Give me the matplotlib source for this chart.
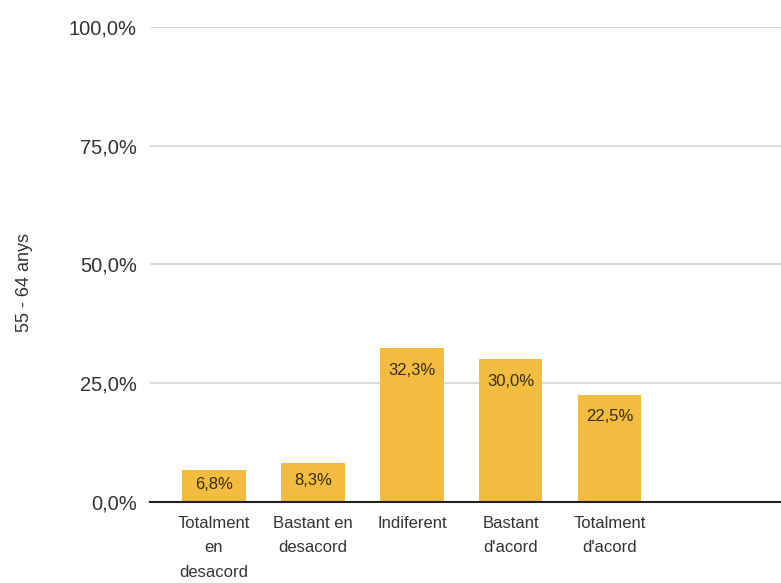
import matplotlib
matplotlib.use("Agg")
import matplotlib.pyplot as plt
from matplotlib.ticker import FuncFormatter

categories = ["Totalment\nen\ndesacord", "Bastant en\ndesacord", "Indiferent", "Bastant\nd'acord", "Totalment\nd'acord"]
values = [6.8, 8.3, 32.3, 30.0, 22.5]
y_ticks = [0, 25, 50, 75, 100]
y_label = "55 - 64 anys"

plt.rcParams["font.family"] = ["Liberation Sans", "DejaVu Sans"]

fig = plt.figure(figsize=(7.81, 5.83), dpi=100)
ax = fig.add_axes([0.192, 0.139, 0.808, 0.815])

bar_color = "#F1BC3F"
x = list(range(len(values)))
ax.bar(x, values, width=0.64, color=bar_color, zorder=2)

# value labels sit inside the top of each bar (centred in short bars)
for xi, v in zip(x, values):
    y_lab = v - min(4.6, 0.45 * v)
    ax.text(xi, y_lab, f"{v:.1f}%".replace(".", ","), ha="center", va="center",
            fontsize=12, color="#3a2d0c", zorder=3)

ax.set_xlim(-0.646, 5.73)
ax.set_ylim(0, 100)
ax.set_yticks(y_ticks)
ax.yaxis.set_major_formatter(FuncFormatter(lambda v, p: f"{v:.1f}%".replace(".", ",")))
ax.set_xticks(x)
ax.set_xticklabels(categories, fontsize=12, color="#333333", linespacing=1.8)
ax.tick_params(axis="x", length=0, pad=10)
ax.tick_params(axis="y", length=0, pad=9.5, labelsize=14.5, labelcolor="#333333")

ax.grid(axis="y", color="#d4d4d4", linewidth=1.2, zorder=0)
ax.set_axisbelow(True)
for s in ["top", "right", "left"]:
    ax.spines[s].set_visible(False)
ax.spines["bottom"].set_color("#222222")
ax.spines["bottom"].set_linewidth(1.5)
ax.spines["bottom"].set_zorder(4)

fig.text(0.031, 0.515, y_label, rotation=90, ha="center", va="center",
         fontsize=13, color="#333333")

fig.savefig("out.png", dpi=100)
